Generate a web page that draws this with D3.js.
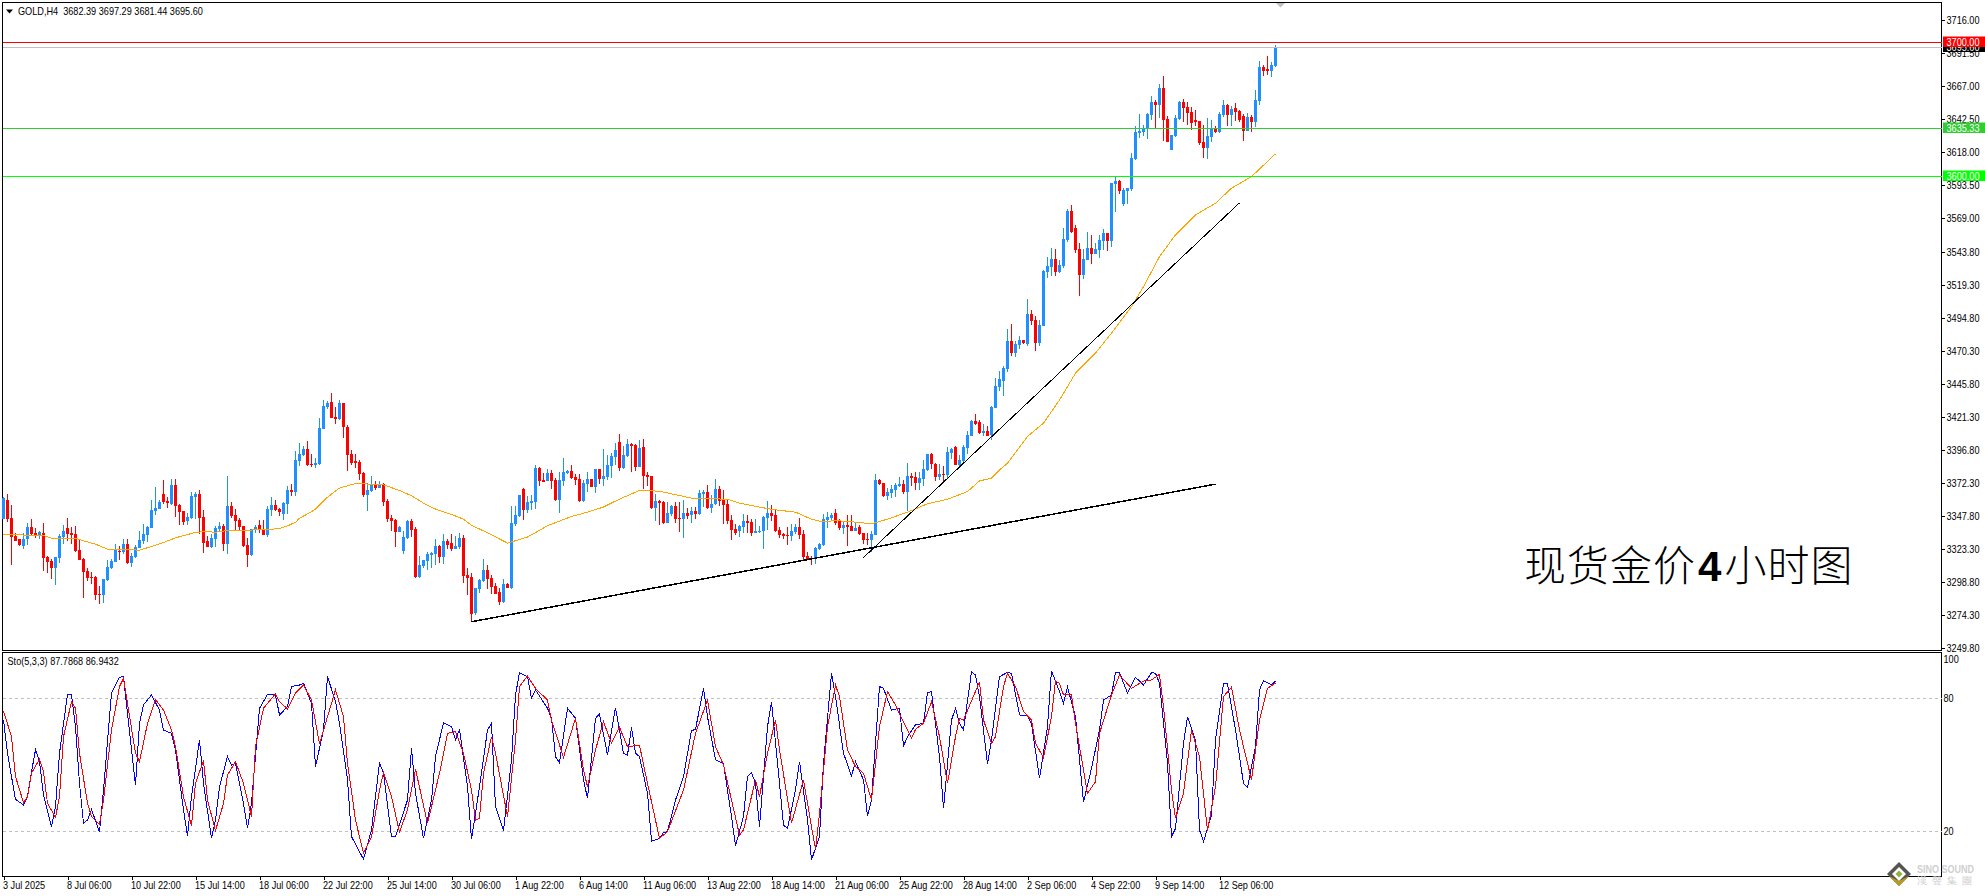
<!DOCTYPE html>
<html>
<head>
<meta charset="utf-8">
<script src="https://cdn.jsdelivr.net/npm/d3@7/dist/d3.min.js"></script>
<style>
  html, body { margin: 0; padding: 0; background: #fff; overflow: hidden; }
  svg { display: block; }
  text { font-family: "Liberation Sans", sans-serif; white-space: pre; }
</style>
</head>
<body>
<svg id="chart" width="1985" height="896"></svg>
<script>
const title = 'GOLD,H4  3682.39 3697.29 3681.44 3695.60';
const stoTitle = 'Sto(5,3,3) 87.7868 86.9432';
const caption = ['现货金价', '4', '小时图'];

const priceTicks = [3716, 3691.5, 3667, 3642.5, 3618, 3593.5, 3569, 3543.8, 3519.3, 3494.8, 3470.3, 3445.8, 3421.3, 3396.8, 3372.3, 3347.8, 3323.3, 3298.8, 3274.3, 3249.8];
const stoTicks = [100, 80, 20];
const stoLevels = [80, 20];
const timeTickBars = [0, 16, 32, 48, 64, 80, 96, 112, 128, 144, 160, 176, 192, 208, 224, 240, 256, 272, 288, 304];
const timeLabels = ['3 Jul 2025', '8 Jul 06:00', '10 Jul 22:00', '15 Jul 14:00', '18 Jul 06:00', '22 Jul 22:00', '25 Jul 14:00', '30 Jul 06:00', '1 Aug 22:00', '6 Aug 14:00', '11 Aug 06:00', '13 Aug 22:00', '18 Aug 14:00', '21 Aug 06:00', '25 Aug 22:00', '28 Aug 14:00', '2 Sep 06:00', '4 Sep 22:00', '9 Sep 14:00', '12 Sep 06:00'];

// candles, H4 bars left to right
const opens = [
3345.7,3359.8,3346.5,3333.3,3330.4,3325.7,3330.4,3339.8,3335.3,3333.8,
3335.3,3317.5,3314.5,3309.3,3316.8,3332.4,3339.0,3335.3,3334.6,3322.7,
3316.0,3307.1,3302.7,3302.7,3290.0,3289.3,3300.4,3309.3,3313.8,3322.0,
3321.2,3327.2,3313.1,3317.5,3324.2,3329.4,3333.8,3339.0,3351.7,3353.1,
3364.3,3359.1,3356.9,3371.0,3356.1,3351.7,3344.2,3346.5,3362.1,3364.3,
3347.2,3329.4,3324.9,3330.9,3338.3,3340.5,3327.2,3355.4,3348.7,3345.0,
3340.5,3326.4,3319.0,3337.6,3341.3,3338.3,3333.8,3352.4,3356.1,3353.1,
3349.4,3356.9,3367.3,3365.8,3388.8,3393.2,3397.7,3386.6,3385.8,3386.6,
3412.5,3428.9,3432.6,3421.5,3420.0,3431.9,3414.1,3394.1,3388.9,3388.1,
3380.0,3363.6,3366.6,3371.0,3368.8,3371.8,3359.2,3346.5,3345.1,3336.1,
3322.0,3331.7,3344.3,3338.4,3302.7,3310.9,3314.6,3319.0,3319.8,3325.7,
3317.6,3329.5,3328.0,3323.5,3325.0,3331.7,3304.2,3302.7,3276.0,3293.8,
3299.8,3307.9,3302.0,3296.0,3291.6,3284.2,3297.5,3294.6,3342.1,3348.0,
3368.1,3352.5,3357.7,3358.4,3383.7,3374.8,3374.0,3379.9,3374.8,3359.9,
3374.0,3379.9,3381.4,3377.0,3375.5,3359.2,3371.8,3375.5,3369.5,3382.9,
3375.5,3377.0,3385.1,3391.8,3403.0,3383.7,3392.6,3401.5,3400.7,3384.4,
3399.3,3378.5,3377.7,3354.0,3359.2,3358.4,3342.8,3349.5,3355.4,3346.5,
3345.7,3350.2,3348.7,3351.7,3349.5,3364.3,3365.8,3353.9,3356.9,3368.0,
3359.9,3356.9,3345.0,3338.3,3336.8,3339.8,3344.3,3343.5,3335.3,3336.1,
3336.8,3346.5,3350.2,3348.7,3337.6,3334.6,3333.9,3333.1,3336.1,3339.8,
3334.6,3318.3,3316.8,3316.0,3323.5,3326.4,3345.0,3346.5,3350.2,3344.3,
3339.1,3341.3,3340.6,3336.8,3339.8,3335.3,3330.9,3330.1,3333.9,3374.7,
3372.5,3362.8,3365.0,3367.3,3370.2,3371.7,3365.8,3377.7,3376.9,3372.5,
3375.4,3382.1,3394.0,3386.6,3376.9,3379.2,3378.4,3394.7,3399.2,3385.8,
3388.8,3398.3,3407.4,3418.6,3417.8,3409.4,3411.1,3408.2,3428.2,3444.0,
3448.2,3457.1,3477.9,3469.0,3474.9,3478.6,3475.7,3498.0,3493.5,3476.4,
3489.0,3529.1,3532.8,3538.8,3529.1,3533.6,3552.9,3574.4,3561.8,3546.2,
3526.9,3538.0,3547.0,3542.5,3545.5,3552.2,3558.1,3552.2,3594.5,3596.7,
3579.6,3589.3,3590.8,3613.0,3632.3,3633.1,3635.3,3645.7,3655.4,3653.1,
3665.8,3642.7,3619.7,3630.1,3642.7,3655.4,3651.7,3647.9,3642.0,3641.3,
3625.7,3621.2,3629.4,3635.3,3633.1,3645.7,3653.1,3645.7,3650.9,3648.7,
3645.0,3633.8,3644.2,3640.5,3656.1,3681.4,3679.9,3678.4,3682.39];

const closes = [
3361.1,3345.7,3332.6,3329.6,3326.4,3330.9,3339.8,3334.6,3333.3,3336.1,
3316.8,3313.8,3309.3,3317.5,3333.1,3336.8,3334.6,3333.8,3322.0,3315.3,
3306.4,3301.9,3301.9,3289.3,3289.3,3301.2,3310.1,3314.5,3323.4,3321.2,
3327.2,3313.1,3318.2,3324.9,3330.1,3334.6,3339.8,3352.4,3353.9,3358.3,
3358.3,3357.6,3371.0,3355.4,3350.9,3343.5,3347.2,3362.8,3364.3,3346.5,
3327.9,3324.9,3331.6,3339.0,3340.5,3327.2,3355.4,3347.9,3344.2,3339.8,
3325.7,3319.0,3338.3,3339.8,3337.6,3333.8,3353.1,3356.1,3352.4,3350.9,
3357.6,3367.3,3365.8,3389.5,3394.0,3397.7,3385.6,3385.6,3387.3,3413.3,
3429.6,3431.8,3420.7,3420.0,3431.8,3413.9,3393.3,3387.4,3387.4,3379.2,
3363.6,3367.3,3371.0,3368.8,3371.0,3358.4,3345.8,3344.3,3336.1,3339.9,
3332.4,3344.3,3337.6,3302.7,3311.6,3315.3,3319.8,3320.5,3325.7,3317.6,
3329.5,3326.5,3323.5,3325.7,3331.7,3303.5,3302.0,3275.3,3294.6,3300.5,
3307.9,3301.2,3295.3,3290.1,3284.2,3297.5,3294.6,3342.8,3348.8,3363.6,
3352.5,3358.4,3359.2,3383.7,3374.0,3373.3,3379.9,3374.0,3359.9,3374.8,
3380.7,3381.4,3376.2,3374.8,3359.2,3372.5,3375.5,3369.5,3382.9,3375.5,
3377.7,3385.9,3392.6,3397.0,3383.7,3393.3,3401.5,3400.0,3384.4,3398.5,
3377.7,3377.0,3354.0,3359.2,3357.7,3342.8,3350.2,3355.4,3345.7,3345.7,
3350.2,3348.0,3351.7,3349.5,3365.0,3365.8,3353.9,3356.9,3368.0,3359.1,
3356.1,3344.3,3337.6,3335.3,3340.6,3344.3,3342.8,3335.3,3336.8,3336.8,
3347.2,3350.2,3348.0,3336.8,3333.9,3333.1,3333.1,3336.8,3339.8,3333.9,
3317.5,3316.0,3316.0,3324.2,3327.2,3345.7,3347.2,3348.7,3342.8,3339.1,
3341.3,3339.8,3336.8,3339.1,3334.6,3330.1,3330.1,3334.6,3374.7,3371.7,
3362.8,3365.8,3368.0,3371.0,3371.7,3365.8,3377.7,3376.2,3372.5,3376.2,
3382.9,3394.0,3386.6,3376.9,3379.2,3378.4,3395.5,3397.7,3385.8,3389.6,
3399.2,3408.2,3418.6,3416.3,3409.6,3411.1,3407.4,3429.0,3444.5,3449.7,
3457.9,3477.9,3469.0,3475.7,3478.6,3476.4,3498.0,3492.8,3476.4,3489.8,
3529.9,3533.6,3538.8,3529.1,3534.3,3553.6,3574.4,3558.8,3545.5,3526.9,
3538.8,3547.0,3542.5,3546.2,3552.9,3558.1,3552.2,3595.2,3596.7,3589.3,
3590.0,3591.5,3613.8,3633.1,3633.8,3635.3,3646.4,3655.4,3653.1,3665.8,
3642.0,3625.7,3630.9,3643.5,3655.4,3650.9,3647.2,3639.8,3640.5,3624.9,
3621.2,3630.1,3636.1,3633.1,3646.4,3653.1,3645.7,3650.2,3647.9,3642.0,
3633.8,3644.2,3640.5,3656.9,3681.4,3678.4,3678.4,3682.8,3695.60];

const highs = [
3361.8,3364.3,3356.1,3335.1,3330.9,3335.1,3342.8,3345.7,3339.0,3336.8,
3342.8,3318.2,3316.0,3317.5,3334.6,3341.3,3346.5,3339.8,3340.5,3330.1,
3316.8,3309.3,3306.4,3303.4,3296.0,3301.2,3315.3,3316.0,3327.2,3325.7,
3330.9,3330.9,3320.5,3326.4,3336.8,3342.0,3340.5,3359.8,3369.5,3359.8,
3374.7,3362.1,3375.4,3375.4,3356.9,3351.7,3350.2,3365.8,3365.8,3367.3,
3352.4,3333.1,3334.6,3340.5,3343.5,3342.0,3377.6,3358.3,3353.1,3346.5,
3340.5,3331.6,3338.3,3341.3,3345.0,3345.0,3355.4,3362.1,3359.8,3353.9,
3358.3,3370.2,3371.7,3396.2,3402.1,3399.9,3403.6,3394.0,3391.0,3420.7,
3434.1,3433.3,3439.3,3428.9,3434.1,3431.9,3415.6,3397.0,3394.1,3389.6,
3380.7,3372.5,3377.7,3374.0,3374.0,3372.5,3360.6,3348.8,3345.8,3340.6,
3336.9,3345.1,3345.8,3339.9,3318.3,3315.3,3321.3,3321.3,3330.9,3326.5,
3334.7,3330.9,3334.7,3333.2,3335.4,3333.9,3309.4,3305.7,3294.6,3301.2,
3316.1,3311.6,3304.2,3298.3,3294.6,3301.2,3298.3,3355.4,3355.4,3363.6,
3368.8,3362.9,3363.6,3385.9,3384.4,3379.9,3382.9,3382.2,3376.2,3380.7,
3391.1,3382.2,3385.9,3379.2,3379.2,3374.8,3380.7,3375.5,3382.9,3382.9,
3397.8,3393.3,3394.8,3402.2,3408.9,3400.0,3405.2,3402.2,3401.5,3404.5,
3405.2,3380.7,3377.7,3364.4,3359.9,3359.2,3358.4,3356.1,3358.4,3358.4,
3359.9,3353.9,3354.7,3354.7,3367.3,3367.3,3371.0,3363.6,3375.4,3370.2,
3367.3,3359.9,3348.7,3342.0,3341.3,3349.5,3348.7,3345.7,3345.7,3340.6,
3348.0,3359.1,3356.1,3352.4,3339.8,3335.3,3339.8,3342.0,3342.0,3346.5,
3337.6,3321.2,3318.3,3325.0,3327.9,3349.5,3350.9,3350.2,3353.2,3345.7,
3344.3,3348.7,3348.7,3342.8,3341.3,3335.3,3335.3,3336.8,3379.2,3375.4,
3372.5,3368.8,3371.0,3372.5,3376.9,3374.7,3387.3,3379.9,3380.6,3380.6,
3389.6,3394.0,3394.7,3387.3,3386.6,3385.1,3399.2,3398.5,3399.9,3393.3,
3400.7,3411.1,3419.3,3423.8,3419.3,3416.3,3414.6,3429.2,3450.4,3455.6,
3459.3,3486.8,3490.5,3477.9,3481.6,3478.6,3509.1,3500.9,3496.5,3493.5,
3530.6,3540.3,3546.9,3546.2,3538.0,3561.8,3575.9,3578.9,3564.0,3550.7,
3546.2,3558.8,3556.6,3550.7,3556.6,3561.1,3558.1,3595.2,3599.7,3597.4,
3591.5,3591.5,3617.5,3637.5,3646.4,3638.3,3647.2,3659.8,3656.9,3668.7,
3674.7,3645.0,3630.9,3645.7,3656.1,3657.6,3655.4,3651.7,3649.4,3641.3,
3638.3,3643.5,3642.0,3637.5,3647.9,3656.9,3653.9,3652.4,3654.6,3649.4,
3646.4,3647.2,3645.7,3664.3,3685.8,3682.8,3689.5,3685.1,3697.29];

const lows = [
3345.7,3343.7,3311.6,3329.6,3325.7,3323.4,3326.4,3333.8,3331.6,3330.9,
3307.1,3305.6,3301.2,3296.7,3313.1,3327.2,3329.4,3327.2,3321.2,3315.3,
3287.1,3299.7,3297.5,3285.6,3282.6,3283.4,3299.7,3308.6,3313.8,3315.3,
3319.7,3312.3,3310.1,3316.8,3324.2,3327.2,3328.6,3339.0,3348.7,3353.1,
3356.9,3353.9,3356.1,3347.2,3341.3,3341.3,3341.3,3345.7,3345.7,3334.6,
3320.5,3324.9,3324.2,3324.9,3336.1,3322.0,3319.7,3346.5,3336.8,3336.8,
3324.9,3310.1,3318.2,3335.3,3335.3,3333.8,3332.4,3347.9,3351.7,3347.9,
3345.0,3349.4,3362.8,3362.8,3385.1,3392.5,3385.1,3384.3,3383.6,3385.8,
3412.5,3427.4,3420.7,3416.3,3419.2,3405.9,3381.4,3385.9,3383.7,3374.8,
3362.1,3351.7,3365.8,3367.3,3368.8,3355.4,3343.6,3336.9,3325.0,3336.1,
3319.8,3330.9,3332.4,3302.0,3302.0,3309.4,3307.9,3309.4,3311.6,3313.1,
3312.4,3323.5,3322.0,3323.5,3323.5,3298.3,3289.4,3269.3,3274.5,3290.8,
3299.0,3293.8,3290.1,3290.1,3281.9,3283.4,3294.6,3293.8,3340.6,3347.3,
3345.1,3350.2,3352.5,3353.2,3370.3,3373.3,3374.0,3368.1,3359.2,3350.2,
3370.3,3379.2,3375.5,3371.0,3358.4,3358.4,3365.8,3369.5,3365.1,3371.8,
3370.3,3374.8,3376.2,3385.9,3381.4,3382.9,3391.8,3380.7,3381.4,3384.4,
3368.1,3370.3,3353.2,3344.3,3341.3,3342.1,3342.8,3348.0,3342.8,3336.1,
3331.6,3345.7,3342.8,3345.7,3348.7,3354.7,3353.2,3350.2,3356.1,3355.4,
3342.0,3342.0,3330.2,3333.9,3332.4,3335.3,3335.3,3333.1,3335.3,3335.3,
3323.5,3337.6,3344.3,3336.1,3331.6,3330.9,3326.4,3329.4,3334.6,3330.9,
3315.3,3315.3,3311.6,3312.3,3322.7,3325.7,3339.1,3345.0,3341.3,3337.6,
3334.6,3325.7,3336.8,3336.8,3333.9,3327.2,3326.4,3321.2,3333.9,3371.0,
3362.1,3359.9,3361.3,3362.1,3369.5,3364.3,3351.7,3370.2,3367.3,3367.3,
3370.2,3381.4,3382.9,3374.0,3374.7,3374.0,3375.4,3390.3,3385.8,3384.4,
3388.1,3394.1,3407.4,3415.6,3408.9,3406.9,3406.9,3404.5,3428.2,3440.8,
3437.1,3454.9,3466.8,3466.0,3472.0,3475.7,3474.2,3489.8,3470.5,3474.2,
3489.0,3524.7,3526.2,3526.2,3528.4,3532.1,3551.4,3558.1,3543.2,3511.3,
3523.9,3538.0,3535.1,3542.5,3539.5,3545.5,3544.7,3547.7,3573.7,3587.1,
3578.1,3579.6,3589.3,3612.3,3628.6,3630.1,3627.9,3642.0,3635.8,3643.5,
3626.4,3625.7,3619.7,3629.4,3642.0,3640.5,3638.3,3634.6,3637.5,3623.4,
3613.8,3613.0,3625.7,3632.3,3632.3,3644.2,3637.5,3637.5,3641.3,3640.5,
3626.4,3633.8,3633.1,3636.8,3653.1,3674.7,3675.4,3673.9,3681.44];

// [bar, price]
const movingAverage = [[0,3334.1],[10,3333.3],[12,3331.4],[18,3331.4],[20,3329.4],[23,3326.9],[26,3323.2],[29,3322.9],[34,3322.5],[37,3325.2],[40,3328.2],[43,3331.6],[45,3333.3],[48,3335.6],[50,3336.3],[53,3335.8],[56,3337.1],[60,3337.3],[65,3337.6],[69,3338.5],[71,3340.5],[73,3343.2],[74,3346.2],[76,3349.4],[78,3352.9],[81,3361.8],[84,3368.6],[88,3372],[95,3371],[99,3366.8],[102,3362.9],[105,3357.4],[108,3353],[112,3349],[115,3345.5],[117,3341],[122,3333.9],[126,3327.7],[131,3332.2],[136,3340.6],[142,3347.5],[146,3350.7],[150,3354.5],[154,3360.4],[159,3366.8],[164,3366.3],[167,3364.3],[172,3361.1],[181,3360.3],[184,3357.4],[189,3354.4],[193,3352.4],[198,3350.7],[202,3345.5],[204,3344],[209,3344.2],[213,3343.3],[217,3342],[221,3345.5],[226,3350.7],[231,3356.9],[236,3360.3],[241,3366],[244,3373.9],[247,3375.9],[249,3382.1],[251,3387],[256,3406.9],[260,3416.8],[264,3434],[268,3453.9],[273,3468.8],[277,3483.6],[282,3503.4],[285,3518.2],[289,3540.5],[293,3556.6],[298,3571.5],[303,3580.1],[307,3591.3],[312,3599.9],[318,3616.8]];

// horizontal price lines
const levels = [
  { price: 3700, color: '#ff0000', label: '3700.00', row: 42 },
  { price: 3695.6, color: '#c0c0c0', label: '3695.60', tag: '#000000', row: 47 },
  { price: 3635.33, color: '#32cd32', label: '3635.33', row: 128 },
  { price: 3600, color: '#00ff00', label: '3600.00', row: 176 }
];

// hand drawn trend lines, [bar, price] at both ends
const trendLines = [
  { from: [117, 3269.3], to: [303, 3371.5], width: 1.5 },
  { from: [215, 3317.0], to: [309, 3580.4], width: 1 }
];

// stochastic, [bar, value]
const stoMain = [[0,70.2],[1,55.2],[2,44.7],[3,34.4],[5,31.9],[6,35.6],[7,46.9],[8,56.7],[9,51.4],[10,36.4],[12,22.1],[13,31.1],[14,55.2],[16,81.8],[17,81.5],[18,67.2],[19,41.6],[20,23.6],[21,25.1],[22,29.9],[24,19.7],[25,38.6],[27,82.3],[29,89.5],[30,89.8],[31,73.2],[33,40.9],[34,68.7],[35,77.0],[37,81.5],[39,74.7],[40,65.7],[42,64.2],[43,56.7],[45,29.6],[46,17.9],[47,35.6],[49,61.2],[50,41.6],[52,16.8],[53,25.1],[54,40.1],[56,53.7],[57,49.9],[58,50.7],[60,32.6],[61,21.3],[62,32.6],[64,75.5],[66,81.8],[68,81.5],[69,72.5],[71,76.2],[72,85.3],[74,86.0],[75,86.8],[77,77.7],[78,49.2],[80,65.7],[81,89.8],[83,78.5],[84,68.7],[86,43.2],[87,17.6],[90,7.4],[92,20.6],[94,51.0],[95,46.2],[97,17.6],[98,17.6],[101,34.1],[102,57.4],[103,37.1],[105,16.8],[107,34.1],[108,53.7],[110,69.0],[112,67.2],[113,61.2],[114,66.0],[116,40.1],[117,16.4],[119,40.1],[121,65.7],[122,68.7],[123,31.1],[125,20.3],[127,52.2],[128,81.5],[129,91.6],[131,89.8],[132,80.0],[133,83.8],[136,75.5],[137,71.0],[138,53.7],[139,51.0],[141,75.5],[143,71.0],[145,43.2],[146,34.9],[148,71.0],[149,72.9],[151,54.4],[153,75.8],[155,55.2],[156,54.4],[157,66.9],[158,55.2],[159,53.7],[161,37.1],[162,15.5],[164,16.8],[165,19.4],[166,19.9],[168,34.1],[170,44.7],[172,65.4],[173,66.0],[175,84.5],[176,71.7],[178,52.2],[180,50.4],[182,26.6],[183,13.4],[185,26.6],[186,44.7],[187,46.5],[188,41.6],[189,22.1],[191,67.2],[192,78.5],[194,41.6],[195,22.8],[196,21.3],[198,38.6],[199,51.4],[201,25.1],[202,7.1],[204,17.6],[205,50.7],[207,91.3],[208,80.8],[210,55.2],[212,45.0],[213,51.4],[215,43.2],[216,26.9],[217,34.1],[219,85.3],[220,84.5],[222,74.7],[224,75.5],[225,58.5],[226,62.7],[228,68.0],[230,68.7],[231,82.6],[232,83.0],[234,53.7],[235,30.4],[237,70.2],[238,75.5],[239,68.7],[240,65.7],[242,92.0],[243,90.5],[244,80.8],[246,50.4],[247,61.2],[249,89.8],[251,91.7],[252,91.3],[254,72.5],[256,72.0],[257,68.7],[259,43.9],[261,67.2],[262,92.5],[264,83.0],[265,77.7],[266,85.0],[268,71.7],[270,33.1],[272,48.4],[274,65.7],[275,79.2],[277,81.5],[278,91.6],[279,91.6],[281,82.3],[283,89.5],[285,86.0],[287,91.6],[288,91.3],[289,86.8],[291,50.7],[292,17.6],[293,21.3],[295,59.7],[296,71.7],[298,61.2],[299,20.6],[300,15.3],[302,27.4],[303,61.2],[305,86.8],[306,86.5],[308,65.7],[310,41.6],[311,39.8],[313,58.2],[314,83.8],[315,88.0],[317,86.0],[318,87.7868]];

const stoSignal = [[0,74.3],[2,62.7],[3,44.7],[5,32.9],[6,35.6],[7,46.2],[9,52.5],[10,46.9],[11,32.6],[13,26.3],[14,35.6],[15,62.7],[17,78.5],[18,75.5],[19,55.2],[21,32.6],[22,26.6],[24,23.1],[25,34.1],[27,65.7],[29,85.3],[30,89.0],[31,77.7],[33,55.2],[34,51.4],[36,68.7],[38,79.5],[40,74.7],[42,65.7],[43,58.2],[45,35.6],[47,22.4],[48,41.6],[50,51.9],[51,34.1],[53,20.3],[55,32.6],[56,45.4],[58,51.4],[60,41.6],[62,26.6],[63,58.2],[65,75.5],[68,82.0],[69,78.5],[71,75.2],[73,82.3],[75,86.0],[77,79.2],[79,59.4],[81,71.7],[83,83.8],[85,71.7],[86,50.7],[88,25.1],[90,10.1],[92,17.6],[94,38.6],[95,46.5],[97,35.6],[99,19.7],[101,29.6],[103,48.0],[106,23.6],[109,46.2],[111,64.2],[113,65.0],[115,55.2],[117,38.6],[118,25.1],[119,25.9],[120,46.2],[122,62.7],[123,55.2],[126,26.6],[128,61.2],[129,85.3],[131,90.1],[133,84.5],[136,79.2],[137,70.2],[140,53.4],[143,71.0],[145,47.7],[146,40.1],[148,56.7],[150,69.5],[152,59.7],[154,66.9],[156,58.2],[159,58.8],[161,41.6],[164,16.8],[166,19.8],[170,38.6],[173,64.2],[176,79.2],[178,58.2],[180,49.9],[182,34.1],[184,18.3],[185,20.6],[188,43.2],[189,35.6],[191,55.2],[193,70.2],[194,56.7],[197,23.6],[200,43.2],[202,22.1],[203,11.9],[204,28.1],[206,67.2],[208,86.0],[209,80.8],[211,56.7],[213,49.2],[215,46.2],[217,34.1],[219,67.2],[221,83.0],[223,77.0],[224,72.9],[227,62.0],[228,66.0],[230,68.7],[232,78.5],[234,62.7],[236,41.6],[238,62.7],[239,71.0],[240,70.2],[244,87.5],[245,70.2],[247,59.7],[248,62.7],[250,85.3],[251,91.3],[253,85.3],[255,74.0],[257,70.2],[258,59.7],[260,53.2],[262,71.7],[263,87.8],[264,86.8],[265,81.5],[267,81.5],[268,68.7],[271,37.1],[273,42.4],[274,64.2],[277,81.5],[279,90.5],[282,84.5],[285,87.8],[287,88.3],[289,90.8],[290,76.2],[292,38.6],[293,25.9],[295,37.1],[297,65.7],[299,53.7],[301,20.3],[303,40.1],[305,80.8],[307,85.0],[309,65.7],[312,43.2],[314,70.2],[316,84.5],[318,86.9432]];

const UP = '#1e90ff', DOWN = '#ff0000';
const LABEL_SIZE = 10.5;

const svg = d3.select('#chart');
const paneLeft = 2.5, paneRight = 1941.5;
const pricePane = { top: 2.5, bottom: 650.5 };
const stoPane = { top: 652.5, bottom: 876.5 };

const x = d3.scaleLinear().domain([0, 318]).range([3.5, 1275.5]);
const y = d3.scaleLinear().domain([3249.8, 3716]).range([648, 20.3]);
const yS = d3.scaleLinear().domain([0, 100]).range([875.6, 654]);

// MetaTrader's labels are narrower than any installed face, squeeze them to fit
function squeeze(sel, ratio = 0.87) {
  sel.each(function () {
    const t = d3.select(this);
    t.attr('textLength', this.getComputedTextLength() * ratio).attr('lengthAdjust', 'spacingAndGlyphs');
  });
}

// Pane frames
[pricePane, stoPane].forEach(p => {
  svg.append('rect')
    .attr('x', paneLeft).attr('y', p.top)
    .attr('width', paneRight - paneLeft).attr('height', p.bottom - p.top)
    .attr('fill', 'none').attr('stroke', '#000').attr('shape-rendering', 'crispEdges');
});

// Axes
const yAxis = d3.axisRight(y)
  .tickValues(priceTicks)
  .tickFormat(d3.format('.2f'))
  .tickSize(3).tickPadding(2);
const gy = svg.append('g').attr('transform', `translate(${paneRight},0)`).call(yAxis);
gy.select('.domain').remove();

const yAxisS = d3.axisRight(yS)
  .tickValues(stoTicks)
  .tickFormat(d3.format('d'))
  .tickSize(0).tickPadding(2);
const gs = svg.append('g').attr('transform', `translate(${paneRight},0)`).call(yAxisS);
gs.select('.domain').remove();
gs.selectAll('.tick text').filter(d => d === 100).attr('y', 5);

const xAxis = d3.axisBottom(x)
  .tickValues(timeTickBars)
  .tickFormat((d, i) => timeLabels[i])
  .tickSize(3).tickPadding(2);
const gx = svg.append('g').attr('transform', `translate(0,${stoPane.bottom})`).call(xAxis);
gx.select('.domain').remove();
gx.selectAll('.tick text').attr('text-anchor', 'start').attr('dx', -1).attr('y', 5);

svg.selectAll('.tick line').attr('shape-rendering', 'crispEdges').attr('stroke', '#000');
svg.selectAll('.tick text')
  .attr('font-family', '"Liberation Sans", sans-serif')
  .attr('font-size', LABEL_SIZE).attr('fill', '#000')
  .call(squeeze);

// Candles
const bars = d3.range(opens.length);
const candles = svg.append('g').attr('shape-rendering', 'crispEdges');
candles.selectAll('line').data(bars).join('line')
  .attr('x1', i => x(i)).attr('x2', i => x(i))
  .attr('y1', i => y(highs[i])).attr('y2', i => y(lows[i]))
  .attr('stroke', i => closes[i] >= opens[i] ? UP : DOWN);
candles.selectAll('rect').data(bars).join('rect')
  .attr('x', i => x(i) - 1.5).attr('width', 3)
  .attr('y', i => y(Math.max(opens[i], closes[i])))
  .attr('height', i => Math.max(1, Math.abs(y(opens[i]) - y(closes[i]))))
  .attr('fill', i => closes[i] >= opens[i] ? UP : DOWN);

// Moving average
const priceLine = d3.line().x(d => x(d[0])).y(d => y(d[1]));
svg.append('path').datum(movingAverage)
  .attr('d', priceLine)
  .attr('fill', 'none').attr('stroke', '#ffa500').attr('stroke-width', 1)
  .attr('shape-rendering', 'crispEdges');

// Trend lines
trendLines.forEach(t => {
  svg.append('line')
    .attr('x1', x(t.from[0])).attr('y1', y(t.from[1]))
    .attr('x2', x(t.to[0])).attr('y2', y(t.to[1]))
    .attr('stroke', '#000').attr('stroke-width', t.width)
    .attr('shape-rendering', 'crispEdges');
});

// Horizontal levels with price tags, red tag sits on top of the black one
levels.forEach(l => {
  svg.append('line')
    .attr('x1', paneLeft).attr('x2', paneRight)
    .attr('y1', l.row + 0.5).attr('y2', l.row + 0.5)
    .attr('stroke', l.color).attr('shape-rendering', 'crispEdges');
});
levels.slice().reverse().forEach(l => {
  const cy = l.row + 0.5;
  svg.append('rect')
    .attr('x', paneRight + 1.5).attr('y', cy - 6)
    .attr('width', 1985 - paneRight).attr('height', 10.5)
    .attr('fill', l.tag || l.color);
  svg.append('text')
    .attr('x', paneRight + 5).attr('y', cy + 3)
    .attr('font-size', LABEL_SIZE).attr('fill', '#fff')
    .text(l.label)
    .call(squeeze);
});

// Stochastic levels and lines
stoLevels.forEach(v => {
  svg.append('line')
    .attr('x1', paneLeft).attr('x2', paneRight)
    .attr('y1', Math.round(yS(v)) + 0.5).attr('y2', Math.round(yS(v)) + 0.5)
    .attr('stroke', '#c0c0c0').attr('stroke-dasharray', '3,3')
    .attr('shape-rendering', 'crispEdges');
});
const stoLine = d3.line().x(d => x(d[0])).y(d => yS(d[1]));
svg.append('path').datum(stoMain)
  .attr('d', stoLine).attr('fill', 'none').attr('stroke', '#0000ff')
  .attr('stroke-width', 1).attr('shape-rendering', 'crispEdges');
svg.append('path').datum(stoSignal)
  .attr('d', stoLine).attr('fill', 'none').attr('stroke', '#ff0000')
  .attr('stroke-width', 1).attr('shape-rendering', 'crispEdges');

// Titles
svg.append('path').attr('d', 'M6,9.5 L13,9.5 L9.5,13.5 Z').attr('fill', '#000');
svg.append('text').attr('x', 18).attr('y', 14.5).attr('font-size', LABEL_SIZE).text(title).call(squeeze);
svg.append('text').attr('x', 7.5).attr('y', 665).attr('font-size', LABEL_SIZE).text(stoTitle).call(squeeze);

// Chart shift marker
svg.append('path').attr('d', 'M1276,3 L1285,3 L1280.5,7.5 Z').attr('fill', '#c0c0c0');

// Big caption
const cap = svg.append('text').attr('x', 1524).attr('y', 581).attr('font-size', 42).attr('fill', '#000');
cap.append('tspan').attr('font-family', '"Noto Sans CJK SC"').attr('font-weight', 300).attr('letter-spacing', 1).text(caption[0]);
cap.append('tspan').attr('font-family', '"Liberation Sans"').attr('font-weight', 'bold').attr('dx', 2).text(caption[1]);
cap.append('tspan').attr('font-family', '"Noto Sans CJK SC"').attr('font-weight', 300).attr('letter-spacing', 1).attr('dx', 3).text(caption[2]);

// Watermark
const mark = svg.append('g').attr('transform', 'translate(1899,874)');
mark.append('path').attr('d', 'M0,-12 L12,0 L0,12 L-12,0 Z').attr('fill', '#555');
mark.append('path').attr('d', 'M-10,2 L0,12 L10,2 L0,7 Z').attr('fill', '#b89a1e');
mark.append('path').attr('d', 'M0,-7 L7,0 L0,7 L-7,0 Z').attr('fill', '#fff');
mark.append('path').attr('d', 'M0,-3.5 L3.5,0 L0,3.5 L-3.5,0 Z').attr('fill', '#8db33c');
svg.append('text').attr('x', 1917).attr('y', 873).attr('font-size', 10).attr('font-weight', 'bold')
  .attr('fill', '#cfcfcf').text('SINO SOUND').call(squeeze, 0.9);
svg.append('text').attr('x', 1917).attr('y', 884).attr('font-size', 10)
  .attr('font-family', '"Noto Sans CJK TC"').attr('letter-spacing', 5).attr('fill', '#cfcfcf').text('漢聲集團');
</script>
</body>
</html>
